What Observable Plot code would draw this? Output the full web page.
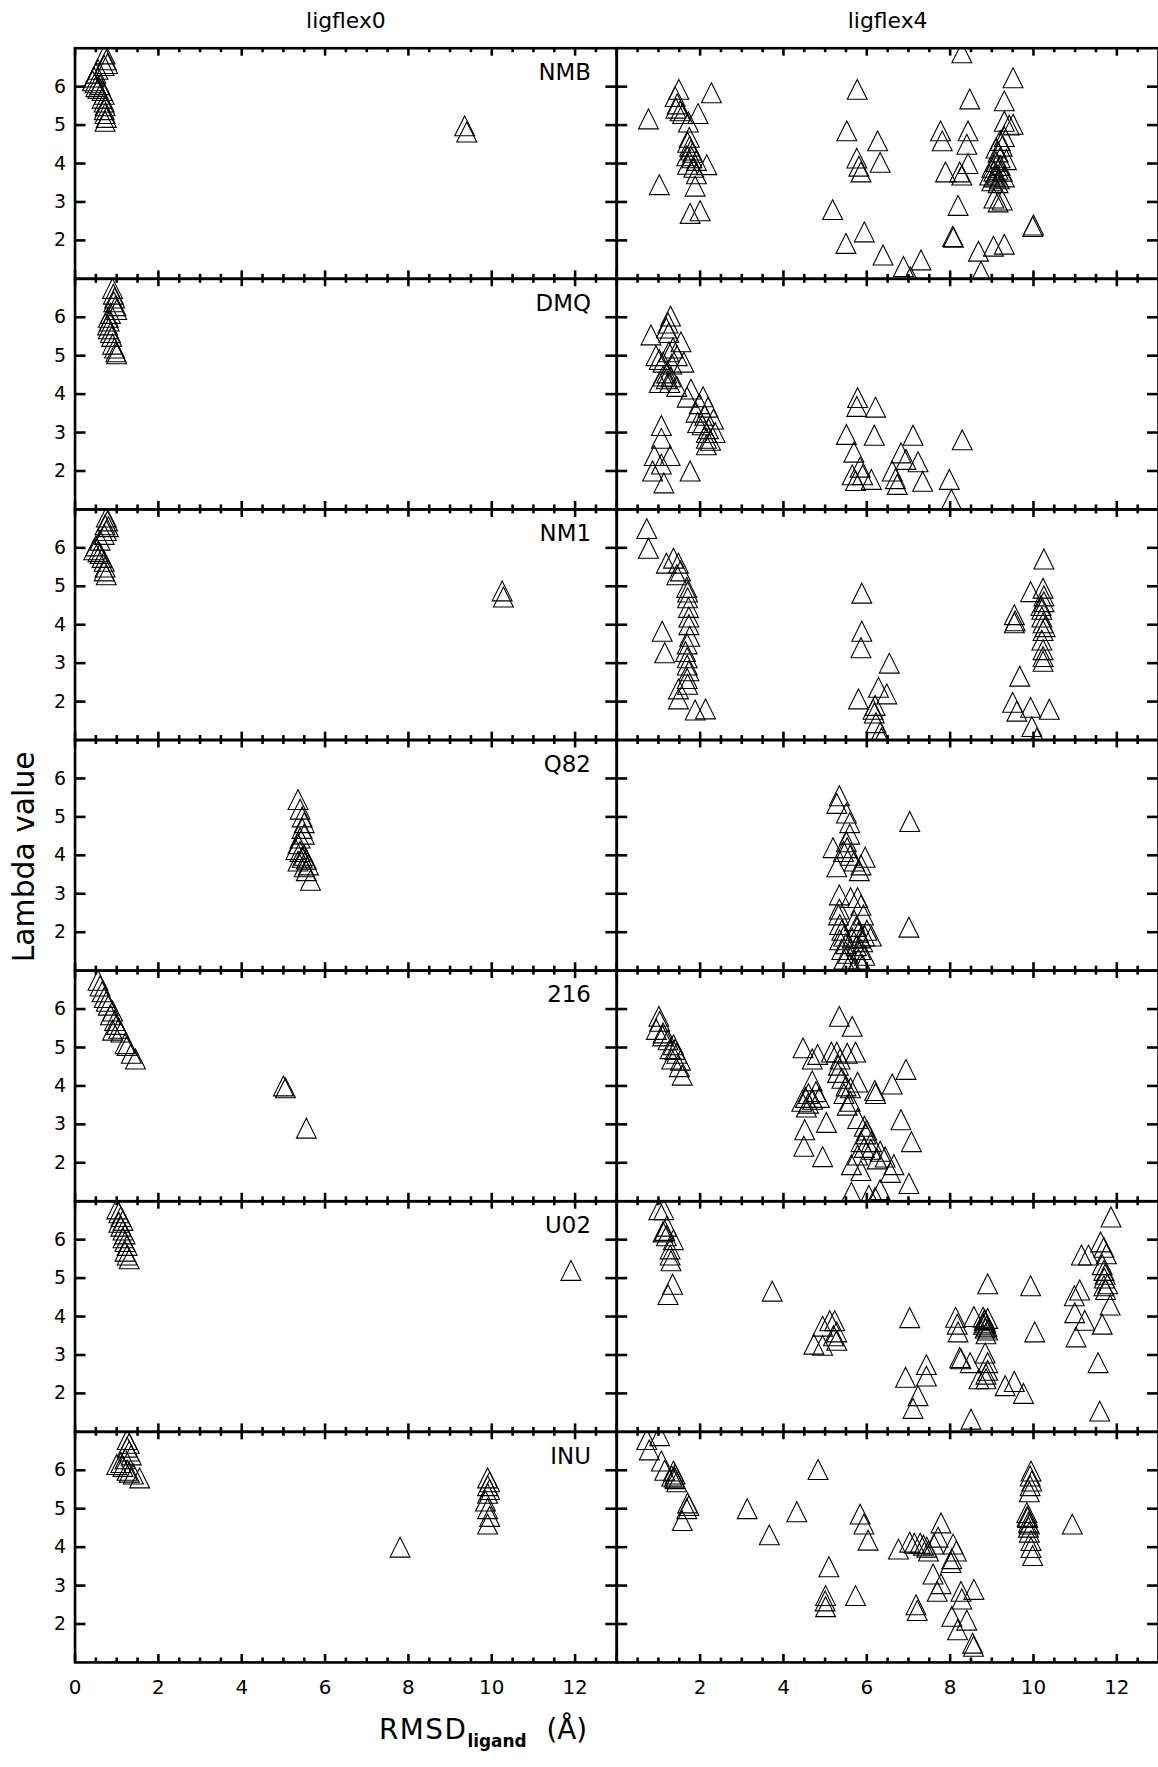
<!DOCTYPE html>
<html><head><meta charset="utf-8">
<script src="https://cdn.jsdelivr.net/npm/d3@7"></script>
<script src="https://cdn.jsdelivr.net/npm/@observablehq/plot@0.6"></script>
<style>html,body{margin:0;padding:0;background:#fff;overflow:hidden;width:1158px;height:1767px}</style>
</head><body><div id="chart"></div>
<script>
// ---------- categories & ticks ----------
const columns = ["ligflex0", "ligflex4"];
const ligands = ["NMB", "DMQ", "NM1", "Q82", "216", "U02", "INU"];
const xTickLabels = [0, 2, 4, 6, 8, 10, 12];
const xMinorTicks = [0.5, 1, 1.5, 2.5, 3, 3.5, 4.5, 5, 5.5, 6.5, 7, 7.5, 8.5, 9, 9.5, 10.5, 11, 11.5, 12.5];
const yTickLabels = [2, 3, 4, 5, 6];

// ---------- data: [RMSD, lambda] per ligand / run ----------
const nmb0 = [[0.72,6.85],[0.75,6.7],[0.78,6.6],[0.7,6.55],[0.55,6.45],[0.5,6.35],[0.45,6.25],[0.42,6.15],[0.48,6.1],[0.5,6.0],[0.55,5.95],[0.6,6.05],[0.65,5.9],[0.7,5.8],[0.65,5.7],[0.7,5.6],[0.72,5.5],[0.7,5.4],[0.72,5.3],[0.75,5.2],[0.72,5.1],[9.35,4.98],[9.4,4.82]];
const nmb4 = [[0.76,5.16],[1.02,3.45],[1.49,5.93],[1.40,5.74],[1.45,5.55],[1.42,5.44],[1.52,5.37],[1.58,5.30],[1.95,5.30],[1.72,5.08],[2.27,5.84],[1.74,4.68],[1.70,4.55],[1.75,4.45],[1.78,4.35],[1.82,4.29],[1.68,4.20],[1.91,4.08],[2.16,3.97],[1.70,3.98],[1.91,3.73],[1.88,3.41],[1.76,2.70],[2.00,2.77],[1.85,3.90],[1.80,4.15],
 [5.77,5.93],[5.52,4.85],[6.26,4.59],[5.76,4.14],[5.81,3.93],[5.86,3.78],[6.32,4.03],[5.18,2.80],[5.94,2.22],[5.50,1.92],[6.39,1.62],[6.88,1.32],[7.30,1.49],[7.05,1.05],
 [8.28,6.88],[9.51,6.23],[8.47,5.68],[9.30,5.63],[7.77,4.85],[7.81,4.59],[8.43,4.85],[8.40,4.50],[9.42,5.00],[9.51,5.02],[9.30,5.10],[7.89,3.78],[8.43,4.00],[8.23,3.78],[8.28,3.70],[8.19,2.91],[8.06,2.10],[8.08,2.08],[8.68,1.72],[8.74,1.19],[9.04,1.85],[9.30,1.90],[10.00,2.40],[9.98,2.36],
 [9.00,3.55],[9.05,3.65],[9.10,3.75],[9.15,3.85],[9.20,3.95],[9.05,3.80],[9.12,3.70],[9.18,3.60],[9.25,3.80],[9.10,4.05],[9.20,4.15],[9.15,4.30],[9.25,4.45],[9.20,4.60],[9.30,4.70],[9.10,4.40],[9.00,3.90],[9.30,3.65],[9.15,3.50],[9.05,3.10],[9.15,3.00],[9.25,3.05],[8.95,3.70],[9.35,4.10]];
const dmq0 = [[0.9,6.75],[0.92,6.6],[0.95,6.5],[0.93,6.4],[0.98,6.3],[1.0,6.2],[0.85,6.1],[0.8,6.0],[0.82,5.9],[0.78,5.8],[0.8,5.7],[0.85,5.6],[0.88,5.5],[0.9,5.3],[0.95,5.2],[0.98,5.1],[1.0,5.05]];
const dmq4 = [[1.29,6.03],[0.82,5.54],[1.23,5.85],[1.19,5.72],[1.25,5.60],[1.54,5.36],[1.61,4.83],[0.94,5.00],[1.02,4.90],[1.11,4.83],[1.32,4.78],[1.11,4.47],[1.19,4.40],[1.27,4.30],[1.44,4.20],[1.02,4.30],[1.78,4.13],[1.69,3.92],[2.07,3.93],[1.98,3.75],[1.90,3.53],[2.19,3.66],[2.11,3.45],[2.32,3.35],[1.94,3.26],[2.15,3.00],[2.15,2.85],[2.15,2.68],[2.36,3.00],[1.07,3.18],[1.07,2.85],[0.90,2.40],[1.28,2.40],[1.07,2.18],[0.86,2.00],[1.76,2.00],[1.13,1.69],
 [1.20,4.55],[1.30,4.45],[1.35,5.20],[1.45,5.00],[1.25,5.10],[2.05,3.20],[2.20,3.10],[2.25,2.80],
 [5.78,3.91],[5.76,3.68],[6.21,3.66],[5.51,2.95],[6.18,2.93],[7.11,2.93],[8.29,2.81],[5.69,2.49],[6.82,2.47],[6.94,2.30],[7.23,2.24],[5.84,2.10],[5.90,1.90],[5.65,1.90],[5.73,1.75],[6.11,1.78],[6.61,2.00],[6.69,1.80],[6.73,1.65],[7.34,1.73],[7.98,1.78],[8.03,1.26]];
const nm10 = [[0.75,6.8],[0.78,6.7],[0.72,6.6],[0.8,6.55],[0.75,6.45],[0.7,6.35],[0.6,6.2],[0.5,6.05],[0.45,5.95],[0.55,5.9],[0.6,5.85],[0.65,5.75],[0.7,5.65],[0.72,5.5],[0.7,5.4],[0.75,5.3],[10.25,4.88],[10.28,4.72]];
const nm14 = [[0.72,6.50],[0.76,5.99],[1.36,5.73],[1.19,5.60],[1.48,5.60],[1.53,5.40],[1.44,5.30],[1.68,4.97],[1.70,4.85],[1.70,4.70],[1.73,4.20],[1.73,4.00],[1.09,3.83],[1.15,3.27],[1.69,3.50],[1.65,3.30],[1.69,3.14],[1.69,2.95],[1.73,2.80],[1.69,2.60],[1.48,2.33],[1.48,2.07],[1.88,1.78],[2.13,1.81],[1.72,4.45],[1.75,3.70],[1.70,2.45],
 [5.88,4.82],[5.88,3.83],[5.86,3.40],[6.54,3.00],[6.28,2.37],[6.48,2.20],[5.80,2.07],[6.15,1.80],[6.18,1.70],[6.22,1.45],[6.32,1.20],[6.35,1.05],[6.20,1.90],
 [10.25,5.71],[9.93,4.86],[10.23,4.95],[10.25,4.75],[10.25,4.60],[9.54,4.26],[9.56,4.10],[9.54,4.05],[10.20,4.40],[10.20,4.20],[10.23,4.05],[10.23,3.85],[10.20,3.60],[10.23,3.35],[10.23,3.17],[10.23,3.05],[9.67,2.66],[9.50,1.98],[9.60,1.75],[9.93,1.85],[10.38,1.80],[9.96,1.35],[10.08,1.05],[10.18,4.50],[10.28,3.95]];
const q820 = [[5.35,5.45],[5.4,5.2],[5.45,5.0],[5.5,4.85],[5.45,4.7],[5.5,4.55],[5.4,4.45],[5.35,4.3],[5.3,4.15],[5.4,4.1],[5.5,4.0],[5.45,3.95],[5.55,3.9],[5.35,3.85],[5.6,3.75],[5.5,3.7],[5.55,3.6],[5.65,3.35]];
const q824 = [[5.34,5.55],[5.28,5.35],[5.51,5.10],[5.59,4.85],[7.03,4.88],[5.59,4.55],[5.51,4.35],[5.53,4.20],[5.44,4.10],[5.19,4.20],[5.96,3.95],[5.28,3.70],[5.86,3.75],[5.82,3.60],[5.60,4.00],[5.70,3.85],[5.34,2.97],[5.61,2.90],[5.78,2.90],[5.34,2.60],[5.32,2.45],[5.86,2.70],[5.92,2.45],[7.01,2.13],[6.11,1.90],
 [5.35,2.20],[5.40,2.05],[5.45,1.90],[5.35,1.80],[5.50,1.70],[5.40,1.55],[5.55,1.45],[5.45,1.30],[5.60,1.20],[5.70,2.30],[5.75,2.15],[5.80,2.00],[5.85,1.85],[5.90,1.75],[5.75,1.65],[5.85,1.55],[5.95,1.40],[5.80,1.30],[5.90,1.15],[5.70,1.05],[6.00,2.05],[5.65,1.85],[5.95,1.90]];
const s2160 = [[0.55,6.75],[0.6,6.6],[0.65,6.45],[0.7,6.3],[0.75,6.2],[0.8,6.1],[0.9,5.95],[0.85,5.85],[0.95,5.7],[1.0,5.6],[1.05,5.5],[0.9,5.45],[1.1,5.4],[1.2,5.1],[1.25,5.05],[1.35,4.85],[1.45,4.7],[5.0,4.0],[5.05,3.95],[5.55,2.9]];
const s2164 = [[1.01,5.81],[1.03,5.68],[0.95,5.47],[1.11,5.38],[1.23,5.20],[1.36,5.07],[1.44,4.85],[1.53,4.67],[1.57,4.28],[1.28,4.97],[1.32,4.70],[1.10,5.30],[1.40,4.95],[1.50,4.50],
 [5.34,5.81],[5.65,5.55],[4.47,4.99],[4.82,4.82],[4.69,4.70],[5.15,4.88],[5.28,4.88],[5.53,4.85],[5.73,4.88],[5.36,4.70],[5.32,4.54],[6.94,4.43],[6.61,4.05],[6.19,3.88],[6.21,3.80],[5.78,4.10],[4.69,4.13],[4.44,3.60],[4.53,3.70],[4.60,3.80],[4.78,3.85],[4.86,3.70],[5.53,3.50],[5.45,3.80],[5.61,3.95],[5.03,3.05],[4.51,2.86],[6.82,3.12],[7.07,2.55],[4.49,2.43],[4.94,2.16],[5.78,3.15],[5.94,2.95],[5.98,2.75],[5.86,2.55],[6.11,2.55],[5.94,2.40],[5.78,2.20],[6.32,2.30],[6.44,2.15],[6.65,1.95],[6.57,1.75],[5.63,1.95],[5.86,1.80],[7.01,1.46],[5.63,1.23],[6.20,1.10],[6.32,1.30],[6.05,1.15],
 [4.60,3.55],[4.70,3.65],[4.55,3.45],[5.40,4.20],[5.50,4.00],[5.60,3.60],[6.00,2.85],[6.10,2.35],[6.25,2.10],[5.30,4.35]];
const u020 = [[1.0,6.8],[1.05,6.7],[1.1,6.6],[1.15,6.5],[1.05,6.45],[1.1,6.35],[1.15,6.25],[1.2,6.15],[1.15,6.05],[1.2,5.95],[1.25,5.85],[1.2,5.7],[1.25,5.6],[1.3,5.5],[11.9,5.2]];
const u024 = [[1.01,6.78],[1.13,6.78],[1.15,6.24],[1.11,6.20],[1.19,6.10],[1.36,6.00],[1.28,5.76],[1.28,5.60],[1.30,5.45],[1.34,4.84],[1.23,4.57],[1.20,6.35],
 [3.73,4.66],
 [5.11,3.89],[5.23,3.89],[4.94,3.75],[5.28,3.60],[5.28,3.38],[4.73,3.28],[4.94,3.25],[5.20,3.50],
 [7.03,3.97],[8.90,4.85],[9.93,4.80],[8.13,3.98],[8.17,3.80],[8.19,3.60],[8.57,4.00],
 [8.79,3.98],[8.82,3.90],[8.85,3.85],[8.80,3.80],[8.88,3.75],[8.84,3.70],[8.90,3.65],[8.86,3.55],[8.83,3.92],[8.90,3.95],
 [10.03,3.60],[8.84,3.05],[8.23,2.93],[8.26,2.90],[8.48,2.80],[8.90,2.80],[8.90,2.60],[8.86,2.50],[8.86,2.38],[8.69,2.38],[7.43,2.75],[7.43,2.45],[6.93,2.42],[7.23,1.94],[7.11,1.61],[9.32,2.20],[9.54,2.31],[9.76,2.00],[8.50,1.33],
 [11.86,6.59],[11.61,5.94],[11.69,5.80],[11.75,5.63],[11.15,5.60],[11.32,5.60],[11.69,5.20],[11.70,5.00],[11.78,4.85],[11.69,4.80],[11.73,4.70],[11.11,4.69],[10.98,4.54],[11.84,4.30],[10.99,4.10],[11.23,3.90],[11.65,3.80],[11.02,3.47],[11.55,2.80],[11.59,1.54],[11.72,5.10],[11.65,5.35]];
const inu0 = [[1.25,6.8],[1.3,6.7],[1.25,6.6],[1.3,6.5],[1.35,6.4],[1.2,6.3],[1.1,6.2],[1.0,6.15],[1.15,6.1],[1.25,6.0],[1.3,5.95],[1.4,5.9],[1.55,5.8],[9.9,5.8],[9.95,5.7],[9.9,5.6],[9.95,5.5],[9.9,5.4],[9.85,5.2],[9.9,5.0],[9.95,4.8],[9.9,4.6],[7.8,4.0]];
const inu4 = [[0.72,6.80],[1.03,6.90],[0.78,6.53],[1.07,6.24],[1.15,6.00],[1.36,5.98],[1.40,5.90],[1.40,5.78],[1.44,5.70],[1.32,5.85],[1.38,5.82],[1.73,5.08],[1.68,5.00],[1.57,4.69],[1.70,5.15],
 [3.13,5.00],[4.32,4.92],[3.66,4.32],[4.83,6.02],[5.84,4.86],[5.93,4.60],[6.03,4.18],[5.09,3.49],[5.01,2.74],[5.00,2.60],[5.01,2.45],[5.73,2.74],
 [6.76,3.95],[7.03,4.13],[7.14,4.10],[7.28,4.10],[7.36,4.05],[7.44,4.00],[7.78,4.63],[7.71,4.26],[7.61,4.08],[7.48,3.90],[8.07,4.08],[8.15,3.90],[8.04,3.70],[8.02,3.60],[7.59,3.30],[7.78,3.05],[7.69,2.85],[8.57,2.90],[8.26,2.85],[8.28,2.65],[7.18,2.50],[7.21,2.35],[8.04,2.20],[8.40,2.10],[8.18,1.85],[8.54,1.50],[8.56,1.42],
 [9.94,5.98],[9.92,5.85],[9.96,5.72],[9.90,5.44],[9.84,4.90],[9.86,4.77],[9.88,4.65],[9.88,4.52],[9.90,4.39],[9.94,4.17],[9.94,3.99],[9.98,3.78],[9.85,4.80],[9.90,4.60],[9.92,5.60],[10.93,4.60]];

const panelData = {
  NMB: [nmb0, nmb4], DMQ: [dmq0, dmq4], NM1: [nm10, nm14], Q82: [q820, q824],
  "216": [s2160, s2164], U02: [u020, u024], INU: [inu0, inu4]
};

// ---------- build tables ----------
const points = [];
for (const lig of ligands) {
  panelData[lig].forEach((arr, ci) => {
    for (const [x, y] of arr) points.push({lig, col: columns[ci], x, y});
  });
}
const xLabelRows = [];
columns.forEach((col, ci) => {
  for (const v of xTickLabels) if (!(ci > 0 && v === 0)) xLabelRows.push({col, v});
});
const yLabelRows = [];
for (const lig of ligands) for (const v of yTickLabels) yLabelRows.push({lig, v});
const perPanel = (vals) => {
  const rows = [];
  for (const col of columns) for (const lig of ligands) for (const v of vals) rows.push({col, lig, v});
  return rows;
};
const majorRows = perPanel(xTickLabels);
const minorRows = perPanel(xMinorTicks);
const yTickRows = perPanel(yTickLabels);

// ---------- layout ----------
const X_DOMAIN = [0, 13], Y_DOMAIN = [1, 7];
const W = 1165, H = 1767, ML = 75, MT = 48, MB = 95;
const panelH = (H - MT - MB) / ligands.length;   // ≈ 232 px
const panelW = (W - ML) / columns.length;        // 545 px
const pxPerY = panelH / (Y_DOMAIN[1] - Y_DOMAIN[0]);
const pxPerX = panelW / (X_DOMAIN[1] - X_DOMAIN[0]);
// tick lengths (pixels) converted into scale units
const MAJ = 8 / pxPerY, MIN = 4.5 / pxPerY, YT = 11 / pxPerX;

const idlTriangle = {draw(ctx, size) {
  const s = Math.sqrt(size / Math.PI);
  ctx.moveTo(0, -s); ctx.lineTo(s, s); ctx.lineTo(-s, s); ctx.closePath();
}};

const FONT = "DejaVu Sans";
const tk = {fx: "col", fy: "lig", stroke: "black", strokeWidth: 2.6};
const [x0, x1] = X_DOMAIN, [y0, y1] = Y_DOMAIN;

const plot = Plot.plot({
  width: W,
  height: H,
  marginLeft: ML,
  marginRight: 0,
  marginTop: MT,
  marginBottom: MB,
  style: {fontFamily: FONT, background: "white", color: "black"},
  x: {domain: X_DOMAIN, axis: null},
  y: {domain: Y_DOMAIN, axis: null},
  fx: {domain: columns, padding: 0, axis: null},
  fy: {domain: ligands, padding: 0, axis: null},
  marks: [
    Plot.frame({stroke: "black", strokeWidth: 2.6}),
    // x ticks, inward from top & bottom of each panel
    Plot.ruleX(majorRows, {x: "v", y1: () => y1, y2: () => y1 - MAJ, ...tk}),
    Plot.ruleX(majorRows, {x: "v", y1: () => y0, y2: () => y0 + MAJ, ...tk}),
    Plot.ruleX(minorRows, {x: "v", y1: () => y1, y2: () => y1 - MIN, ...tk}),
    Plot.ruleX(minorRows, {x: "v", y1: () => y0, y2: () => y0 + MIN, ...tk}),
    // y ticks, inward from left & right of each panel
    Plot.ruleY(yTickRows, {y: "v", x1: () => x0, x2: () => x0 + YT, ...tk}),
    Plot.ruleY(yTickRows, {y: "v", x1: () => x1, x2: () => x1 - YT, ...tk}),
    // data
    Plot.dot(points, {x: "x", y: "y", fx: "col", fy: "lig", symbol: idlTriangle, r: 10,
      fill: "none", stroke: "black", strokeWidth: 1.1, clip: true}),
    // tick labels
    Plot.text(xLabelRows, {x: "v", fx: "col", fy: () => "INU", text: d => String(d.v),
      frameAnchor: "bottom", dy: 25, lineAnchor: "middle", fontSize: 20, fill: "black"}),
    Plot.text(yLabelRows, {y: "v", fy: "lig", fx: () => "ligflex0", text: d => String(d.v),
      frameAnchor: "left", dx: -9, textAnchor: "end", lineAnchor: "middle", fontSize: 19, fill: "black"}),
    // panel labels
    Plot.text(ligands, {fx: () => "ligflex0", fy: d => d, text: d => d, frameAnchor: "top-right",
      dx: -26, dy: 32, textAnchor: "end", lineAnchor: "bottom", fontSize: 23, fill: "black"}),
    // column titles
    Plot.text(columns, {fx: d => d, fy: () => "NMB", text: d => d, frameAnchor: "top",
      dy: -20, lineAnchor: "bottom", fontSize: 22, fill: "black", style: "letter-spacing:1.2px"})
  ]
});

const svg = d3.select(plot);
svg.append("text")
  .attr("transform", "translate(34,862) rotate(-90)")
  .attr("text-anchor", "middle")
  .attr("font-family", FONT)
  .attr("font-size", 30)
  .attr("fill", "black")
  .text("Lambda value");
const xt = svg.append("text")
  .attr("x", 486).attr("y", 1750)
  .attr("font-family", FONT).attr("fill", "black");
xt.append("tspan").attr("font-size", 28).attr("letter-spacing", "1.5px").text("RMSD");
xt.append("tspan").attr("font-size", 17).attr("font-weight", "bold").attr("dy", 8).attr("dx", 0).text("ligand");
xt.append("tspan").attr("font-size", 28).attr("dy", -8).attr("dx", 20).text("(Å)");

document.getElementById("chart").appendChild(plot);
</script>
</body></html>
